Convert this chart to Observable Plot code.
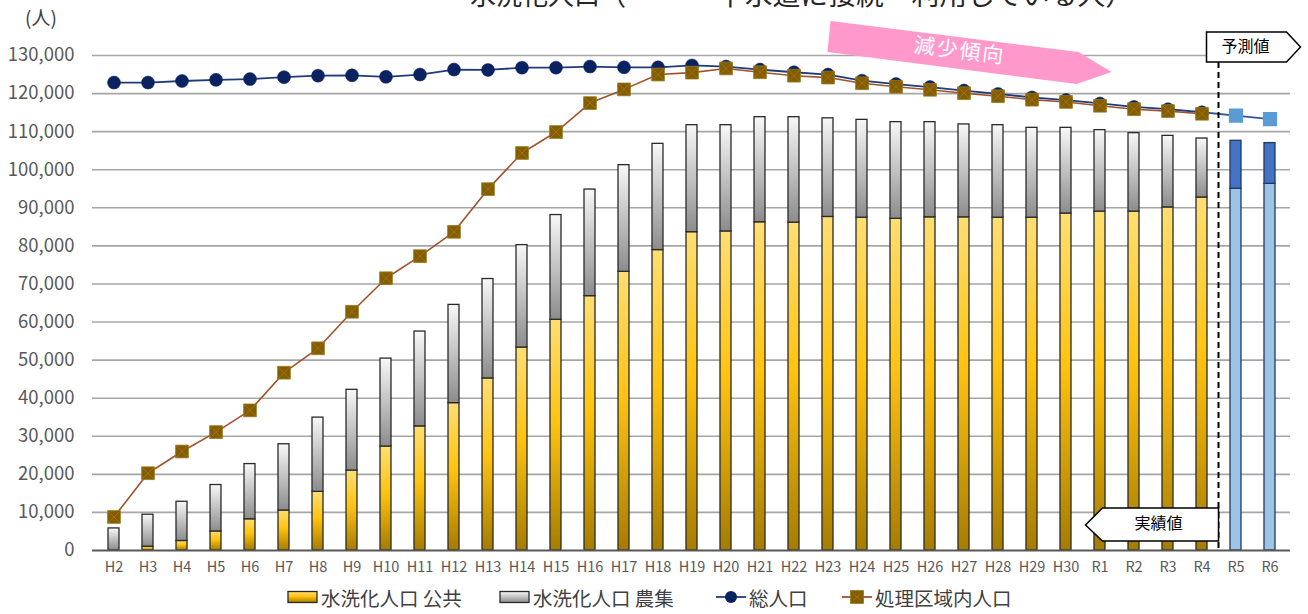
<!DOCTYPE html>
<html><head><meta charset="utf-8">
<script src="https://cdn.jsdelivr.net/npm/d3@7"></script>
<script src="https://cdn.jsdelivr.net/npm/@observablehq/plot@0.6"></script>
<style>
body{margin:0;background:#fff;font-family:"Noto Sans CJK JP","Noto Sans",sans-serif;}
#wrap{position:relative;width:1308px;height:614px;overflow:hidden;background:#fff;}
#legend{position:absolute;left:0;top:580px;width:1308px;height:34px;}
.li{position:absolute;top:0;height:34px;display:flex;align-items:center;font-size:19.5px;color:#404040;white-space:nowrap;}
.li svg{margin-right:2px;}
</style></head><body>
<div id="wrap"><div id="chart"></div><div id="legend"></div></div>
<script>
const categories = ["H2","H3","H4","H5","H6","H7","H8","H9","H10","H11","H12","H13","H14","H15","H16","H17","H18","H19","H20","H21","H22","H23","H24","H25","H26","H27","H28","H29","H30","R1","R2","R3","R4","R5","R6"];
// 水洗化人口 公共 (R5,R6 = 予測)
const kokyo = [0,1000,2500,5000,8200,10500,15400,21000,27300,32600,38700,45200,53300,60600,66800,73200,78900,83600,83800,86200,86100,87600,87400,87100,87500,87500,87400,87400,88500,89000,89000,90100,92700,95000,96300];
// 水洗化人口 農集
const noshu = [5800,8400,10300,12200,14500,17400,19500,21200,23100,24900,25800,26100,26900,27500,28000,28000,27900,28100,27900,27600,27700,25900,25700,25400,25000,24400,24300,23600,22500,21400,20600,18800,15500,12600,10700];
// 総人口
const totalPop = [122900,122900,123300,123600,123800,124300,124700,124800,124400,125000,126300,126200,126800,126800,127100,126900,126900,127400,127100,126300,125600,125000,123400,122500,121700,120800,119900,119000,118300,117400,116500,115900,115100,null,null];
// 処理区域内人口
const shoriPop = [8800,20300,26000,31100,36800,46700,53100,62700,71500,77300,83700,94900,104400,109900,117500,121100,125000,125500,126600,125600,124700,124200,122700,121800,121000,120100,119300,118400,117800,116800,115900,115400,114700,null,null];
// 予測値
const forecastPop = [null,null,null,null,null,null,null,null,null,null,null,null,null,null,null,null,null,null,null,null,null,null,null,null,null,null,null,null,null,null,null,null,null,114200,113300];
const forecastStart = 33;
const yTicks = [0,10000,20000,30000,40000,50000,60000,70000,80000,90000,100000,110000,120000,130000];

const rows = categories.map((c,i)=>({cat:c, kokyo:kokyo[i], noshu:noshu[i], total:totalPop[i], shori:shoriPop[i], fc:forecastPop[i], forecast:i>=forecastStart}));
const actual = rows.filter(d=>!d.forecast);
const fcast = rows.filter(d=>d.forecast);
const totalRows = rows.filter(d=>d.total!=null);
const shoriRows = rows.filter(d=>d.shori!=null);
const fcRows = rows.filter(d=>d.fc!=null);
const fcLine = [{cat:totalRows[totalRows.length-1].cat, v:totalRows[totalRows.length-1].total}, ...fcRows.map(d=>({cat:d.cat, v:d.fc}))];

const FONT = '"Noto Sans CJK JP","Noto Sans",sans-serif';
const barStroke = "#2a2a2a";

const plot = Plot.plot({
  width:1308, height:580,
  marginLeft:92, marginRight:18, marginTop:55, marginBottom:30,
  style:{fontFamily:FONT, background:"#fff", color:"#595959", overflow:"visible"},
  x:{type:"band", domain:categories, paddingInner:0.68, paddingOuter:0.34, label:null},
  y:{domain:[0,130000], label:null},
  marks:[
    Plot.ruleY(yTicks.filter(d=>d>0), {stroke:"#a6a6a6", strokeWidth:1.6}),
    Plot.barY(actual, {x:"cat", y1:0, y2:"kokyo", fill:"url(#gYellow)", stroke:barStroke, strokeWidth:1.3}),
    Plot.barY(actual, {x:"cat", y1:"kokyo", y2:d=>d.kokyo+d.noshu, fill:"url(#gGray)", stroke:barStroke, strokeWidth:1.3}),
    Plot.barY(fcast, {x:"cat", y1:0, y2:"kokyo", fill:"#9dc3e6", stroke:"#1f3864", strokeWidth:1.3}),
    Plot.barY(fcast, {x:"cat", y1:"kokyo", y2:d=>d.kokyo+d.noshu, fill:"#4472c4", stroke:"#1f3864", strokeWidth:1.3}),
    Plot.ruleY([0], {stroke:"#595959", strokeWidth:2}),
    Plot.axisX({tickSize:0, tickPadding:11, fontSize:14.5, label:null, fill:"#595959"}),
    Plot.axisY({ticks:yTicks, tickFormat:d3.format(","), tickSize:0, tickPadding:18, fontSize:18.5, label:null, fill:"#595959"}),
    Plot.line(totalRows, {x:"cat", y:"total", stroke:"#1f3b7a", strokeWidth:1.8}),
    Plot.line(fcLine, {x:"cat", y:"v", stroke:"#2f5597", strokeWidth:1.8}),
    Plot.dot(totalRows, {x:"cat", y:"total", r:6.5, fill:"#0b2260", stroke:"#0b2260", strokeWidth:0.5}),
    Plot.line(shoriRows, {x:"cat", y:"shori", stroke:"#a0522d", strokeWidth:1.6}),
    Plot.dot(shoriRows, {x:"cat", y:"shori", symbol:"square", r:7.2, fill:"#7f6000", stroke:"#9c7a20", strokeWidth:0.8}),
    Plot.dot(shoriRows, {x:"cat", y:"shori", symbol:"times", r:5.2, stroke:"#b5651d", strokeWidth:1}),
    Plot.dot(fcRows, {x:"cat", y:"fc", symbol:"square", r:7.2, fill:"#5b9bd5", stroke:"#5b9bd5"})
  ]
});
document.getElementById("chart").appendChild(plot);

const svg = d3.select(plot);
const defs = svg.insert("defs", ":first-child");
function grad(sel, id, stops){
  const g = sel.append("linearGradient").attr("id", id).attr("x1",0).attr("y1",0).attr("x2",0).attr("y2",1);
  stops.forEach(([o,c])=>g.append("stop").attr("offset",o).attr("stop-color",c));
}
grad(defs, "gYellow", [[0,"#ffdf73"],[0.45,"#ffc30f"],[1,"#a67c00"]]);
grad(defs, "gGray", [[0,"#f8f8f8"],[1,"#8c8c8c"]]);

const xs = plot.scale("x"), ys = plot.scale("y");
const bw = xs.bandwidth;
const cx = c => xs.apply(c) + bw/2;
const Y = v => ys.apply(v);

const ann = svg.append("g").attr("font-family", FONT).attr("text-anchor","start");
// clipped title (top edge cut as in the reference)
ann.append("text").attr("x",470).attr("y",5).attr("font-size",26).attr("fill","#262626").text("水洗化人口（");
ann.append("text").attr("x",717).attr("y",5).attr("font-size",26).attr("fill","#262626").attr("textLength",416).attr("lengthAdjust","spacingAndGlyphs").text("下水道に接続・利用している人）");
// unit
ann.append("text").attr("x",25).attr("y",25).attr("font-size",19).attr("fill","#404040").text("(人)");

// pink trend arrow
const ax0 = cx("H23"), ax1 = cx("R1");
const pts = [[ax0+3, 21],[ax1-21,52],[ax1+12,72],[ax1-23,84],[ax0, 52]];
ann.append("polygon").attr("points", pts.map(p=>p.join(",")).join(" ")).attr("fill","#ff99cc");
ann.append("text").attr("x",(ax0+ax1)/2-4).attr("y",52).attr("font-size",21).attr("fill","#fff")
  .attr("text-anchor","middle").attr("dominant-baseline","middle")
  .attr("transform",`rotate(7.1 ${(ax0+ax1)/2-4} 52)`).attr("letter-spacing",2).text("減少傾向");

// forecast divider
const xd = (cx(categories[forecastStart-1]) + cx(categories[forecastStart]))/2;
ann.append("line").attr("x1",xd).attr("x2",xd).attr("y1",62).attr("y2",Y(0)).attr("stroke","#000").attr("stroke-width",2).attr("stroke-dasharray","6,4");

// 予測値 box
const pb = [[xd-12,32],[xd+68,32],[xd+82,47],[xd+68,62],[xd-12,62]];
ann.append("polygon").attr("points", pb.map(p=>p.join(",")).join(" ")).attr("fill","#fff").attr("stroke","#000").attr("stroke-width",1.5);
ann.append("text").attr("x",xd+27).attr("y",48).attr("font-size",16).attr("fill","#000").attr("text-anchor","middle").attr("dominant-baseline","middle").text("予測値");

// 実績値 box
const jb = [[xd,508],[xd-116,508],[xd-133,525],[xd-116,541],[xd,541]];
ann.append("polygon").attr("points", jb.map(p=>p.join(",")).join(" ")).attr("fill","#fff").attr("stroke","#000").attr("stroke-width",1.5);
ann.append("text").attr("x",xd-60).attr("y",525).attr("font-size",16).attr("fill","#000").attr("text-anchor","middle").attr("dominant-baseline","middle").text("実績値");

// legend
const legend = d3.select("#legend");
const items = [
  {left:287, label:"水洗化人口 公共", type:"bar", fill:"url(#lgY)"},
  {left:499, label:"水洗化人口 農集", type:"bar", fill:"url(#lgG)"},
  {left:715, label:"総人口", type:"dot", color:"#1f3b7a", mfill:"#0b2260"},
  {left:841, label:"処理区域内人口", type:"sq", color:"#a0522d", mfill:"#7f6000"}
];
items.forEach((it,i)=>{
  const d = legend.append("div").attr("class","li").style("left", it.left+"px");
  const s = d.append("svg").attr("width",32).attr("height",18);
  if (i===0){ const df = s.append("defs"); grad(df,"lgY",[[0,"#ffdf73"],[0.45,"#ffc30f"],[1,"#a67c00"]]); grad(df,"lgG",[[0,"#f8f8f8"],[1,"#8c8c8c"]]); }
  if (it.type==="bar"){
    s.append("rect").attr("x",1).attr("y",3.5).attr("width",29).attr("height",11).attr("fill",it.fill).attr("stroke","#2a2a2a").attr("stroke-width",1.3);
  } else {
    s.append("line").attr("x1",1).attr("x2",31).attr("y1",9).attr("y2",9).attr("stroke",it.color).attr("stroke-width",1.8);
    if (it.type==="dot") s.append("circle").attr("cx",16).attr("cy",9).attr("r",6).attr("fill",it.mfill);
    else {
      s.append("rect").attr("x",9.5).attr("y",2.5).attr("width",13).attr("height",13).attr("fill",it.mfill).attr("stroke","#9c7a20").attr("stroke-width",0.8);
      s.append("path").attr("d","M12,5.5L20,12.5M20,5.5L12,12.5").attr("stroke","#b5651d").attr("stroke-width",1);
    }
  }
  d.append("span").text(it.label);
});
</script>
</body></html>
